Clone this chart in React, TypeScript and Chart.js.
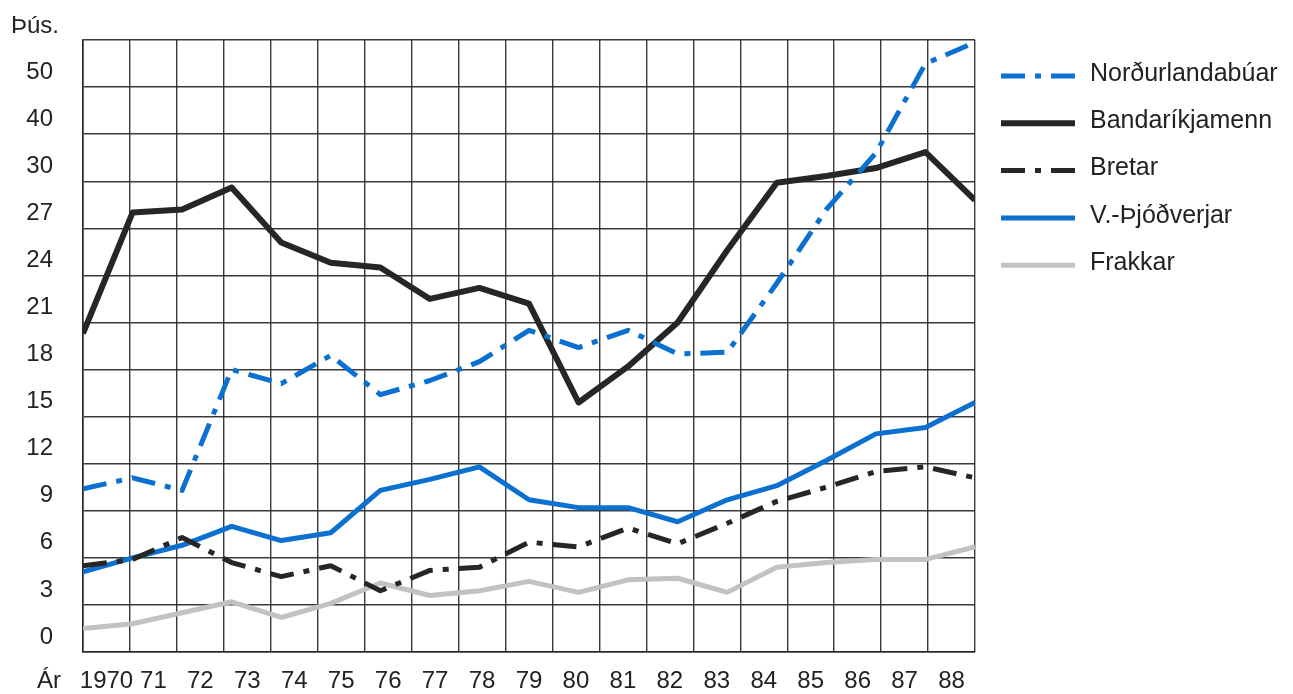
import React, { useEffect, useRef } from 'react';
import { Chart, registerables } from 'chart.js';

Chart.register(...registerables);

// ---- Data (þúsundir ferðamanna) ----
const years = [1970, 1971, 1972, 1973, 1974, 1975, 1976, 1977, 1978, 1979, 1980, 1981, 1982, 1983, 1984, 1985, 1986, 1987, 1988];
const yearLabels = ['1970', '71', '72', '73', '74', '75', '76', '77', '78', '79', '80', '81', '82', '83', '84', '85', '86', '87', '88'];
const yTickLabels = ['0', '3', '6', '9', '12', '15', '18', '21', '24', '27', '30', '40', '50', ''];

const nordurlandabuar = [10.4, 11.1, 10.3, 18.0, 17.1, 18.9, 16.4, 17.3, 18.5, 20.5, 19.4, 20.5, 19.0, 19.1, 23.5, 28.2, 36.0, 55.0, 59.5];
const bandarikjamenn = [20.3, 28.0, 28.2, 29.6, 26.1, 24.8, 24.5, 22.5, 23.2, 22.2, 15.9, 18.2, 21.0, 25.6, 29.9, 31.1, 32.8, 36.2, 28.8];
const bretar = [5.5, 5.9, 7.3, 5.7, 4.8, 5.5, 3.9, 5.2, 5.4, 7.0, 6.7, 7.9, 6.9, 8.2, 9.6, 10.5, 11.5, 11.8, 11.1];
const thjodverjar = [5.1, 6.0, 6.8, 8.0, 7.1, 7.6, 10.3, 11.0, 11.8, 9.7, 9.2, 9.2, 8.3, 9.7, 10.6, 12.2, 13.9, 14.3, 15.9];
const frakkar = [1.5, 1.8, 2.5, 3.2, 2.2, 3.1, 4.4, 3.6, 3.9, 4.5, 3.8, 4.6, 4.7, 3.8, 5.4, 5.7, 5.9, 5.9, 6.7];

// The printed axis is broken: steps of 3 up to 30, then steps of 10.
function toAxis(v: number): number {
  return v <= 30 ? v / 3 : 10 + (v - 30) / 10;
}

const FONT = '"Liberation Sans", Arial, sans-serif';
const TEXT = '#222222';
const GRID = 'rgba(35,35,35,0.9)';
const BLUE = '#0b70d0';
const DARK = '#262626';
const GREY = '#c2c2c2';
const DASHDOT = [24, 10, 6, 10];

const series = (vals: number[]) => vals.map((v, i) => ({ x: years[i], y: toAxis(v) }));

const extrasPlugin = {
  id: 'extras',
  afterDraw(chart: any) {
    const ctx = chart.ctx as CanvasRenderingContext2D;
    ctx.save();
    ctx.fillStyle = TEXT;
    ctx.textBaseline = 'middle';
    ctx.textAlign = 'left';
    ctx.font = `24px ${FONT}`;
    ctx.fillText('Þús.', 11, 26);
    const xs = chart.scales.xg;
    ctx.fillText('Ár', 37, xs.top + 15 + 14.4);
    // legend
    chart.data.datasets.forEach((ds: any, i: number) => {
      const y = 74 + i * 47.3;
      ctx.beginPath();
      ctx.setLineDash(ds.borderDash || []);
      ctx.lineWidth = ds.borderWidth;
      ctx.strokeStyle = ds.borderColor;
      ctx.lineCap = 'butt';
      ctx.moveTo(1001, y + 2);
      ctx.lineTo(1075, y + 2);
      ctx.stroke();
      ctx.setLineDash([]);
      ctx.font = `25px ${FONT}`;
      ctx.fillStyle = TEXT;
      ctx.fillText(ds.label, 1090, y);
    });
    ctx.restore();
  },
};

export default function App() {
  const ref = useRef<HTMLCanvasElement>(null);
  useEffect(() => {
    document.body.style.margin = '0';
    const common = { pointRadius: 0, tension: 0, fill: false, borderCapStyle: 'butt', borderJoinStyle: 'round' };
    const chart = new Chart(ref.current as HTMLCanvasElement, {
      type: 'line',
      data: {
        datasets: [
          { label: 'Norðurlandabúar', data: series(nordurlandabuar), borderColor: BLUE, borderWidth: 5, borderDash: DASHDOT, ...common },
          { label: 'Bandaríkjamenn', data: series(bandarikjamenn), borderColor: DARK, borderWidth: 6, ...common },
          { label: 'Bretar', data: series(bretar), borderColor: DARK, borderWidth: 5, borderDash: DASHDOT, ...common },
          { label: 'V.-Þjóðverjar', data: series(thjodverjar), borderColor: BLUE, borderWidth: 5, ...common },
          { label: 'Frakkar', data: series(frakkar), borderColor: GREY, borderWidth: 5, ...common },
        ] as any,
      },
      options: {
        responsive: false,
        animation: false,
        devicePixelRatio: 1,
        layout: { padding: { top: 40, right: 318, left: 0, bottom: 0 } },
        plugins: { legend: { display: false }, tooltip: { enabled: false } },
        scales: {
          x: { type: 'linear', min: 1970, max: 1988, display: false },
          xg: {
            type: 'category',
            labels: yearLabels,
            position: 'bottom',
            offset: true,
            grid: { offset: true, color: GRID, lineWidth: 1.4, drawTicks: false },
            border: { display: true, color: GRID, width: 1.6 },
            ticks: { padding: 15, color: TEXT, font: { family: FONT, size: 24 }, maxRotation: 0, autoSkip: false },
            afterFit: (s: any) => { s.height = 42; s.paddingLeft = 0; s.paddingRight = 0; },
          },
          y: {
            type: 'linear',
            min: 0,
            max: 13,
            position: 'left',
            grid: { color: GRID, lineWidth: 1.4, drawTicks: false },
            border: { display: true, color: GRID, width: 1.6 },
            ticks: {
              stepSize: 1,
              padding: 30,
              labelOffset: -15,
              color: TEXT,
              font: { family: FONT, size: 24 },
              callback: (v: any) => yTickLabels[Math.round(Number(v))] ?? '',
            },
            afterFit: (s: any) => { s.width = 83; s.paddingTop = 0; s.paddingBottom = 0; },
          },
        },
      } as any,
      plugins: [extrasPlugin],
    });
    return () => chart.destroy();
  }, []);
  return (
    <div style={{ width: 1293, height: 694, position: 'relative', background: '#fff' }}>
      <canvas ref={ref} width={1293} height={694} style={{ display: 'block' }} />
    </div>
  );
}
